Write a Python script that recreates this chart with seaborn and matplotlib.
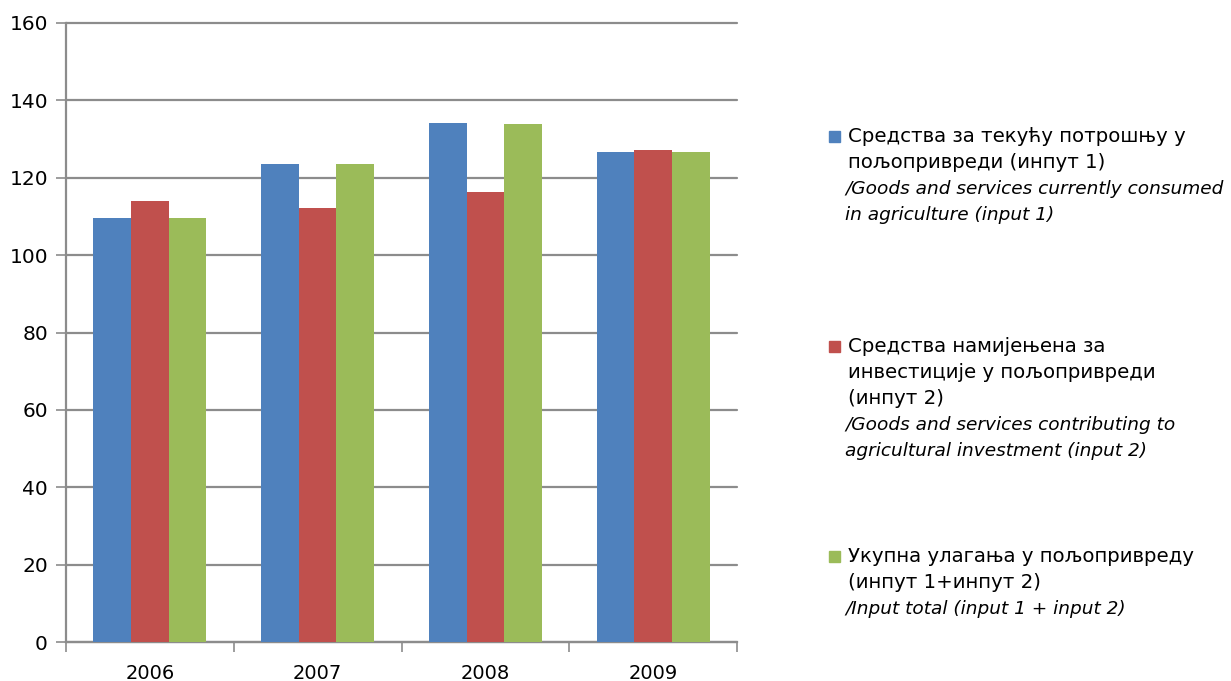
import numpy as np
import pandas as pd
import matplotlib
matplotlib.use("Agg")
import matplotlib.pyplot as plt
from matplotlib.patches import Rectangle
import seaborn as sns

# data
years = ["2006", "2007", "2008", "2009"]
input1 = [109.5, 123.5, 134.1, 126.6]
input2 = [113.9, 112.1, 116.3, 127.1]
total = [109.5, 123.5, 133.8, 126.6]
series = ["input1", "input2", "total"]
colors = ["#4F81BD", "#C0504D", "#9BBB59"]

legend_lines = [
    [("Средства за текућу потрошњу у", "normal"),
     ("пољопривреди (инпут 1)", "normal"),
     ("/Goods and services currently consumed", "italic"),
     ("in agriculture (input 1)", "italic")],
    [("Средства намијењена за", "normal"),
     ("инвестиције у пољопривреди", "normal"),
     ("(инпут 2)", "normal"),
     ("/Goods and services contributing to", "italic"),
     ("agricultural investment (input 2)", "italic")],
    [("Укупна улагања у пољопривреду", "normal"),
     ("(инпут 1+инпут 2)", "normal"),
     ("/Input total (input 1 + input 2)", "italic")],
]

df = pd.DataFrame({
    "year": np.repeat(years, 3),
    "series": series * len(years),
    "value": np.ravel(np.column_stack([input1, input2, total])),
})

sns.set_style("white")
plt.rcParams["font.family"] = ["DejaVu Sans"]

W, H = 1231, 681
fig = plt.figure(figsize=(W / 100, H / 100), dpi=100)
ax = fig.add_axes([66 / W, 1 - 642 / H, (737 - 66) / W, (642 - 23) / H])

sns.barplot(data=df, x="year", y="value", hue="series", hue_order=series,
            palette=colors, width=0.675, saturation=1, dodge=True,
            linewidth=0, legend=False, ax=ax, zorder=3)

ax.set_ylim(0, 160)
ax.set_xlim(-0.5, 3.5)
ax.set_yticks(range(0, 161, 20))
ax.yaxis.grid(True, color="#8C8C8C", linewidth=1.6, zorder=0)
for gl in ax.get_ygridlines():
    gl.set_clip_on(False)
ax.set_axisbelow(True)
ax.set_xlabel("")
ax.set_ylabel("")

for s in ["top", "right"]:
    ax.spines[s].set_visible(False)
for s in ["left", "bottom"]:
    ax.spines[s].set_color("#8C8C8C")
    ax.spines[s].set_linewidth(1.6)

ax.tick_params(axis="y", which="major", left=True, length=7, width=1.2,
               color="#8C8C8C", labelsize=14.5, labelcolor="black", pad=6)
ax.tick_params(axis="x", which="major", bottom=False, labelsize=14,
               labelcolor="black", pad=12)
ax.set_xticks(np.arange(-0.5, 4, 1), minor=True)
ax.tick_params(axis="x", which="minor", bottom=True, length=7, width=1.2,
               color="#8C8C8C")

# legend drawn as text blocks on the right
starts = [137, 347, 557]
step = 26
for i, (lines, y0) in enumerate(zip(legend_lines, starts)):
    fig.patches.append(Rectangle((829 / W, 1 - (y0 + 5) / H), 11 / W, 11 / H,
                                 transform=fig.transFigure, color=colors[i]))
    for j, (txt, style) in enumerate(lines):
        if style == "normal":
            fig.text(848 / W, 1 - (y0 + j * step) / H, txt, fontsize=14.2,
                     va="center", ha="left", color="black")
        else:
            fig.text(845 / W, 1 - (y0 + j * step) / H, txt, fontsize=13.3,
                     style="italic", va="center", ha="left", color="black")

fig.savefig("out.png", dpi=100)
